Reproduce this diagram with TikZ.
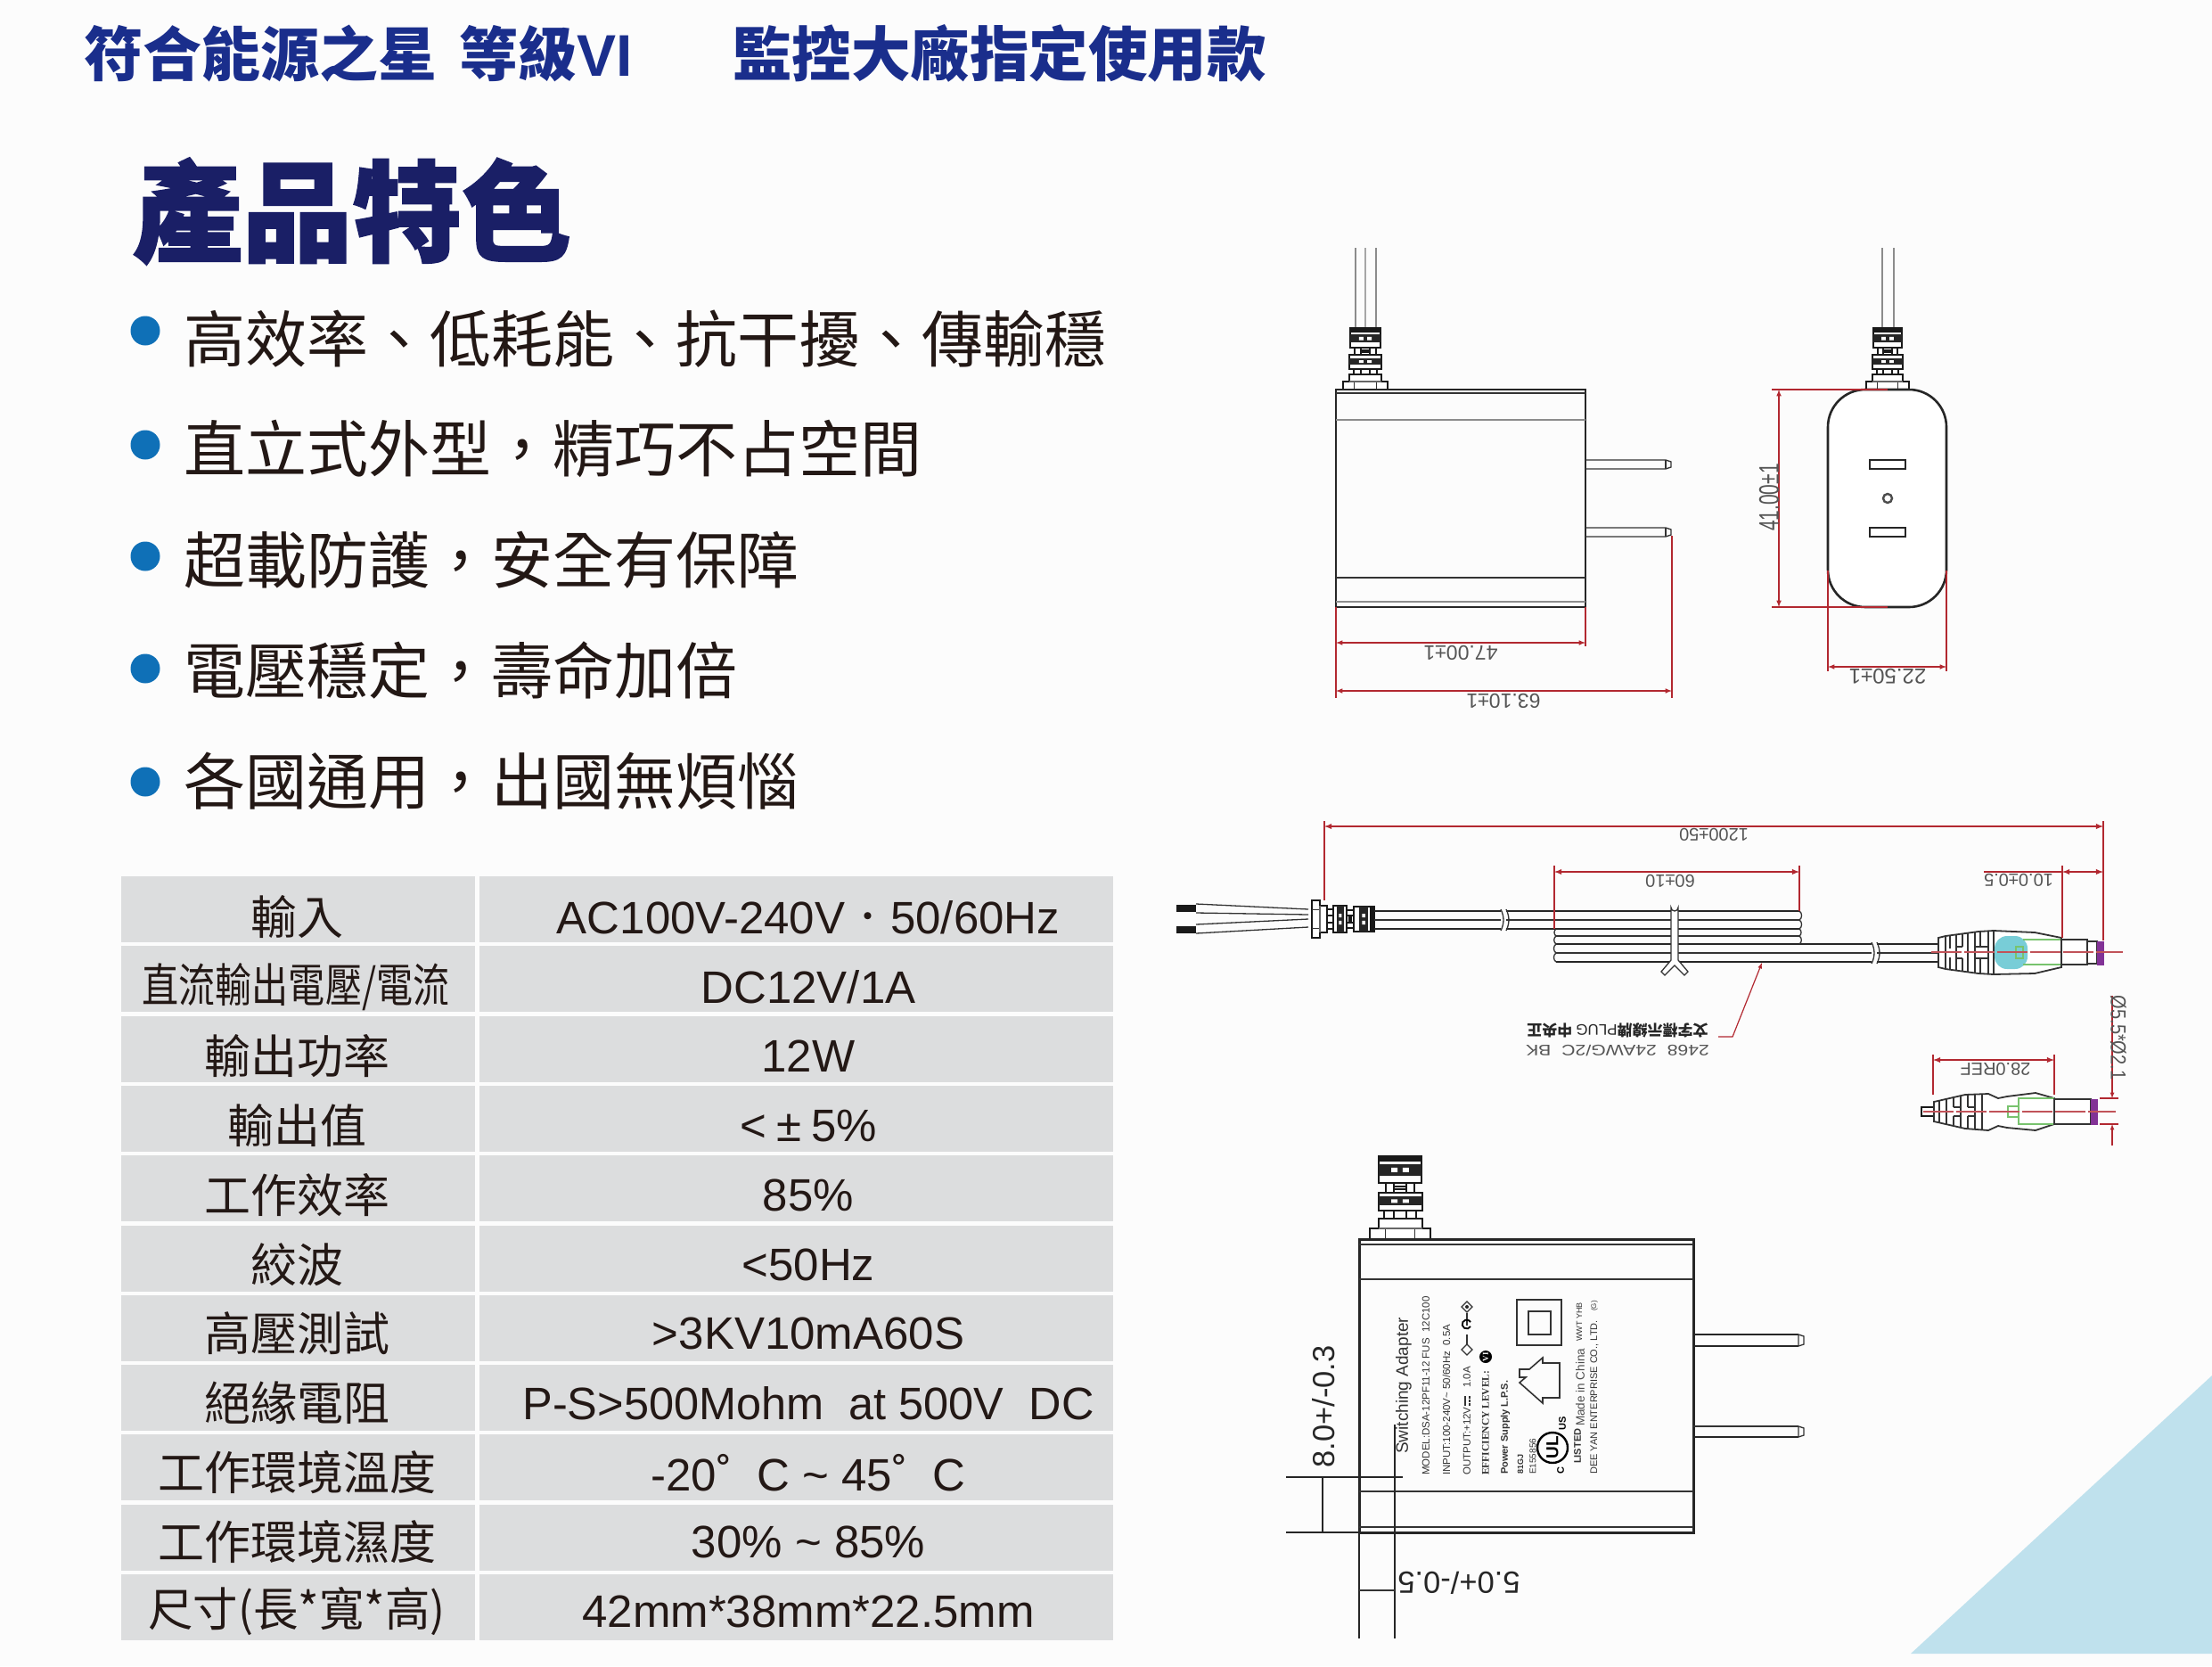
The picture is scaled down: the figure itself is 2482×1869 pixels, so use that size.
\documentclass[tikz,border=0pt]{standalone}
\usepackage{fontspec}
\usepackage{xcolor}
\setmainfont{Liberation Sans}
\newfontfamily\cjk{Noto Sans CJK TC}
\newfontfamily\cjkheavy{Noto Sans CJK TC}[BoldFeatures={FakeBold=1.6}]
\newfontfamily\dejavu{DejaVu Sans}
\newfontfamily\serifb{Liberation Serif}
\usetikzlibrary{arrows, positioning, calc}
\definecolor{headblue}{RGB}{26, 46, 140}
\definecolor{titleblue}{RGB}{26, 31, 102}
\definecolor{dotblue}{RGB}{15, 112, 183}
\definecolor{inkblack}{RGB}{35, 24, 21}
\definecolor{rowgrey}{RGB}{220, 221, 222}
\definecolor{cornerblue}{RGB}{191, 225, 237}
\definecolor{dimred}{RGB}{178, 40, 48}
\definecolor{plugcyan}{RGB}{120, 205, 215}
\definecolor{pluggreen}{RGB}{120, 195, 110}
\definecolor{plugpurple}{RGB}{130, 50, 150}
\definecolor{dimgrey}{RGB}{85, 85, 85}
\newcommand{\fsz}[1]{\fontsize{#1}{#1}\selectfont}
\tikzset{
  bullettext/.style={anchor=west, inner sep=0, text=inkblack, font=\cjk\fsz{69}},
  bulletdot/.style={circle, fill=dotblue, minimum size=33, inner sep=0},
  cellleft/.style={inner sep=0, text=inkblack, font=\cjk\fsz{52}},
  cellright/.style={inner sep=0, text=inkblack, font=\fsz{51}},
  dimline/.style={draw=dimred, line width=1.5, <->, >=latex},
  extline/.style={draw=dimred, line width=1.2},
  dimtext/.style={inner sep=0, text=dimgrey, font=\fsz{23}},
  smalldim/.style={inner sep=0, text=dimgrey, font=\fsz{20}},
  bodyline/.style={draw=black!85, line width=2.6},
  thinline/.style={draw=black!80, line width=1.3},
  reliefline/.style={draw=black!90, line width=2},
  greyline/.style={draw=black!45, line width=2.4},
  plate/.style={inner sep=0, anchor=west, rotate=90, text=black!80, font=\fsz{#1}},
  centerdash/.style={draw=dimred!80, line width=1.4, dash pattern=on 34 off 3}
}
% Strain relief, standing on (0,0)
\newcommand{\reliefparts}{
  \draw[reliefline, fill=white] (-24,-94) rectangle (24,-64);
  \fill[black!90] (-24,-94) rectangle (24,-88);
  \fill[black!85] (-24,-85) rectangle (24,-72);
  \fill[white] (-10,-81) rectangle (-3,-76) (3,-81) rectangle (10,-76);
  \draw[reliefline, fill=white] (-16,-64) rectangle (-7,-53) (7,-64) rectangle (16,-53);
  \draw[reliefline, fill=white] (-7,-60) rectangle (7,-57);
  \draw[reliefline, fill=white] (-25,-53) rectangle (25,-32);
  \fill[black!85] (-25,-48) rectangle (25,-38);
  \fill[white] (-10,-45) rectangle (-3,-41) (3,-45) rectangle (10,-41);
  \draw[reliefline, fill=white] (-18,-32) rectangle (-7,-23) (7,-32) rectangle (18,-23);
  \draw[reliefline, fill=white] (-25,-23) rectangle (25,-12);
  \draw[reliefline, fill=white] (-35,-12) rectangle (35,0);
  \draw[thinline] (-17,-12) -- (-17,0) (17,-12) -- (17,0);
  \draw[draw=black!60, line width=2] (-25,-12) -- (25,-12);
}
\begin{document}
\begin{tikzpicture}[x=1pt, y=-1pt]
  \useasboundingbox (0,0) rectangle (2482,1869);
  \fill[white!99!black] (0,0) rectangle (2482,1869);
  \fill[cornerblue] (2482,1543) -- (2144,1855) -- (2482,1855) -- cycle;

  % Header
  \node[anchor=west, inner sep=0, text=headblue, font=\cjk\bfseries\fsz{66}] (energy) at (94,60) {符合能源之星\hspace{25pt}等級{\normalfont\bfseries VI}};
  \node[anchor=west, inner sep=0, text=headblue, font=\cjk\bfseries\fsz{66.5}] (brand) at (822,60) {監控大廠指定使用款};
  \node[anchor=west, inner sep=0, text=titleblue, font=\cjkheavy\bfseries\fsz{123}] (title) at (149,237) {產品特色};

  % Bullet list
  \node[bulletdot] (dot1) at (163,371) {};
  \node[bulletdot] (dot2) at (163,499) {};
  \node[bulletdot] (dot3) at (163,624) {};
  \node[bulletdot] (dot4) at (163,750) {};
  \node[bulletdot] (dot5) at (163,877) {};
  \node[bullettext] (feat1) at (206,380) {高效率、低耗能、抗干擾、傳輸穩};
  \node[bullettext] (feat2) at (206,503) {直立式外型，精巧不占空間};
  \node[bullettext] (feat3) at (206,628) {超載防護，安全有保障};
  \node[bullettext] (feat4) at (206,752) {電壓穩定，壽命加倍};
  \node[bullettext] (feat5) at (206,876) {各國通用，出國無煩惱};

  % Table rows
  \foreach \i in {0,...,10} {
    \fill[rowgrey] (136,983+78.3*\i) rectangle (533,983+78.3*\i+74);
    \fill[rowgrey] (538,983+78.3*\i) rectangle (1249,983+78.3*\i+74);
  }
  \node[cellleft] (name1) at (333,1029) {輸入};
  \node[cellleft, xscale=0.79] (name2) at (332,1107) {直流輸出電壓/電流};
  \node[cellleft] (name3) at (333,1185) {輸出功率};
  \node[cellleft] (name4) at (333,1263) {輸出值};
  \node[cellleft] (name5) at (333,1341) {工作效率};
  \node[cellleft] (name6) at (333,1419) {絞波};
  \node[cellleft] (name7) at (333,1496) {高壓測試};
  \node[cellleft] (name8) at (333,1574) {絕緣電阻};
  \node[cellleft] (name9) at (333,1652) {工作環境溫度};
  \node[cellleft] (name10) at (333,1730) {工作環境濕度};
  \node[cellleft, xscale=0.97] (name11) at (333,1808) {尺寸(長*寬*高)};
  \node[cellright] (val1) at (907,1029) {AC100V-240V{\cjk ．}50/60Hz};
  \node[cellright] (val2) at (907,1107) {DC12V/1A};
  \node[cellright] (val3) at (907,1185) {12W};
  \node[cellright] (val4) at (907,1263) {<\hspace{11pt}±\hspace{11pt}5\%};
  \node[cellright] (val5) at (907,1341) {85\%};
  \node[cellright] (val6) at (907,1419) {<50Hz};
  \node[cellright] (val7) at (907,1496) {>3KV10mA60S};
  \node[cellright, xscale=0.99] (val8) at (907,1574) {P-S>500Mohm\ \ at 500V\ \ DC};
  \node[cellright] (val9) at (907,1652) {-20˚\ \ C\ \textasciitilde\ 45˚\ \ C};
  \node[cellright] (val10) at (907,1730) {30\%\ \textasciitilde\ 85\%};
  \node[cellright] (val11) at (907,1808) {42mm*38mm*22.5mm};

  % Side view
  \draw[greyline] (1521,278) -- (1521,368) (1544,278) -- (1544,368);
  \draw[draw=black!35, line width=1.4] (1532,278) -- (1532,368);
  \begin{scope}[shift={(1532,437)}, xscale=0.72, yscale=0.73]
    \reliefparts
  \end{scope}
  \draw[bodyline] (1499,437) rectangle (1779,681);
  \draw[greyline] (1499,471) -- (1779,471) (1499,675) -- (1779,675);
  \draw[thinline] (1499,441) -- (1779,441) (1499,648) -- (1779,648);
  \draw[thinline] (1779,516) -- (1869,516) -- (1875,518) -- (1875,524) -- (1869,526) -- (1779,526);
  \draw[thinline] (1869,516) -- (1869,526);
  \draw[thinline] (1779,592) -- (1869,592) -- (1875,594) -- (1875,600) -- (1869,602) -- (1779,602);
  \draw[thinline] (1869,592) -- (1869,602);
  \draw[extline] (1499,681) -- (1499,783) (1779,681) -- (1779,725) (1876,601) -- (1876,783);
  \draw[dimline] (1499,721) -- (1779,721);
  \draw[dimline] (1499,775) -- (1876,775);
  \node[dimtext, rotate=180] (sidew) at (1639,732) {47.00±1};
  \node[dimtext, rotate=180] (sidel) at (1687,786) {63.10±1};

  % Front view
  \draw[greyline] (2112,278) -- (2112,368) (2125,278) -- (2125,368);
  \begin{scope}[shift={(2118,437)}, xscale=0.68, yscale=0.73]
    \reliefparts
  \end{scope}
  \draw[bodyline, fill=white, rounded corners=42] (2051,437) rectangle (2184,681);
  \draw[bodyline, line width=2, fill=white] (2098,516) rectangle (2138,526);
  \draw[bodyline, line width=2, fill=white] (2098,592) rectangle (2138,602);
  \draw[draw=black!70, line width=2.4] (2118,559) circle (5);
  \draw[extline] (1988,437) -- (2118,437) (1988,681) -- (2118,681);
  \draw[extline] (2051,640) -- (2051,753) (2184,640) -- (2184,753);
  \draw[dimline] (1996,437) -- (1996,681);
  \draw[dimline] (2051,748) -- (2184,748);
  \node[dimtext, font=\fsz{21}, rotate=90, yscale=1.5] (fronth) at (1985,558) {41.00±1};
  \node[dimtext, font=\fsz{24}, rotate=180] (frontw) at (2118,759) {22.50±1};

  % Cable overall
  \fill[black!90] (1320,1015) -- (1342,1015) -- (1342,1023) -- (1320,1023) -- cycle;
  \fill[black!90] (1320,1039) -- (1342,1039) -- (1342,1047) -- (1320,1047) -- cycle;
  \draw[thinline] (1342,1014) -- (1468,1020) (1342,1024) -- (1468,1026);
  \draw[thinline] (1342,1037) -- (1468,1031) (1342,1047) -- (1468,1040);
  \begin{scope}[shift={(1472,1031)}, rotate=-90, xscale=0.6, yscale=0.74]
    \reliefparts
  \end{scope}
  \draw[bodyline, line width=2] (1542,1022) -- (1684,1022) (1690,1022) -- (2019,1022);
  \draw[thinline] (1542,1032) -- (1684,1032) (1690,1032) -- (2019,1032);
  \draw[bodyline, line width=1.8] (1542,1042) -- (1684,1042) (1690,1042) -- (2019,1042);
  \draw[thinline] (1684,1020) to[bend left=25] (1684,1044);
  \draw[thinline] (1690,1020) to[bend left=25] (1690,1044);
  \draw[thinline] (1746,1050) -- (2019,1050);
  \draw[bodyline, line width=2] (1746,1059) -- (2100,1059) (2106,1059) -- (2177,1059);
  \draw[thinline] (1746,1069) -- (2100,1069) (2106,1069) -- (2177,1069);
  \draw[bodyline, line width=2] (1746,1079) -- (2100,1079) (2106,1079) -- (2177,1079);
  \draw[thinline] (2100,1057) to[bend left=25] (2100,1081);
  \draw[thinline] (2106,1057) to[bend left=25] (2106,1081);
  \draw[thinline] (1746,1042) to[bend right=60] (1746,1050) to[bend right=60] (1746,1059) to[bend right=60] (1746,1069) to[bend right=60] (1746,1079);
  \draw[thinline] (2019,1022) to[bend left=60] (2019,1032) to[bend left=60] (2019,1042) to[bend left=60] (2019,1050) to[bend left=60] (2019,1059);
  % Cable tie
  \draw[thinline, fill=white] (1875,1077) -- (1875,1018) arc (180:0:4) -- (1883,1077) -- (1894,1090) -- (1890,1094) -- (1879,1083) -- (1868,1094) -- (1864,1090) -- cycle;

  % Plug on the cable
  \draw[thinline, line width=1.8, fill=white] (2175,1052) -- (2183,1050) -- (2220,1045) -- (2237,1044) -- (2283,1046) -- (2313,1052) -- (2313,1085) -- (2283,1092) -- (2237,1093) -- (2220,1092) -- (2183,1087) -- (2175,1085) -- cycle;
  \fill[plugcyan, rounded corners=14] (2238,1050) rectangle (2275,1087);
  \draw[draw=pluggreen, line width=1.5] (2312,1054) -- (2270,1054) (2312,1082) -- (2270,1082);
  \draw[draw=pluggreen, line width=1.2] (2262,1062) rectangle (2270,1075);
  \draw[thinline] (2237,1044) -- (2237,1093);
  \draw[thinline] (2183,1050) -- (2183,1087) (2188,1049) -- (2188,1064) (2188,1074) -- (2188,1088) (2195,1048) -- (2195,1089) (2202,1047) -- (2202,1062) (2202,1075) -- (2202,1090) (2208,1047) -- (2208,1090) (2216,1046) -- (2216,1091) (2222,1045) -- (2222,1062) (2222,1075) -- (2222,1092) (2231,1045) -- (2231,1092);
  \draw[thinline] (2195,1062) -- (2202,1062) (2195,1075) -- (2202,1075) (2216,1062) -- (2231,1062) (2216,1075) -- (2231,1075);
  \draw[thinline, fill=white] (2313,1054) rectangle (2342,1082);
  \draw[thinline, fill=white] (2342,1056) rectangle (2353,1081);
  \fill[plugpurple] (2353,1056) rectangle (2361,1083);
  \draw[centerdash] (2167,1068) -- (2382,1068);

  % Cable dimensions
  \draw[extline] (1486,921) -- (1486,1010) (2360,921) -- (2360,1055);
  \draw[dimline, line width=1.8] (1486,927) -- (2360,927);
  \node[smalldim, rotate=180] (total) at (1923,936) {1200±50};
  \draw[extline] (1744,971) -- (1744,1042) (2019,971) -- (2019,1022);
  \draw[dimline, line width=1.8] (1744,978) -- (2019,978);
  \node[smalldim, rotate=180] (coil) at (1874,988) {60±10};
  \draw[extline] (2314,971) -- (2314,1052);
  \draw[extline] (2226,978) -- (2314,978);
  \draw[dimline, line width=1.8] (2314,978) -- (2360,978);
  \node[smalldim, rotate=180] (tip) at (2265,987) {10.0±0.5};
  \draw[extline, ->, >=latex] (1928,1163) -- (1944,1163) -- (1977,1080);
  \node[inner sep=0, rotate=180, text=black!85, font=\cjk\bfseries\fsz{17}] (wiretag) at (1815,1156) {文字標示線牌{\normalfont\fsz{17}PLUG} 中央正};
  \node[inner sep=0, rotate=180, xscale=1.25, text=dimgrey, font=\fsz{17}] (wirespec) at (1815,1179) {2468\ \ 24AWG/2C\ \ BK};

  % Plug detail
  \draw[reliefline, fill=white] (2156,1242) -- (2170,1242) -- (2170,1252) -- (2156,1252) -- cycle;
  \draw[thinline, line width=1.8, fill=white] (2170,1236) -- (2205,1228) -- (2231,1227) -- (2242,1232) -- (2252,1230) -- (2284,1226) -- (2305,1232) -- (2305,1261) -- (2284,1268) -- (2252,1265) -- (2242,1263) -- (2231,1268) -- (2205,1266) -- (2170,1258) -- cycle;
  \draw[thinline] (2176,1234) -- (2176,1260) (2184,1232) -- (2184,1262) (2192,1230) -- (2192,1242) (2192,1252) -- (2192,1264) (2200,1229) -- (2200,1265) (2208,1228) -- (2208,1242) (2208,1252) -- (2208,1266) (2216,1228) -- (2216,1266) (2224,1228) -- (2224,1267);
  \draw[thinline] (2192,1242) -- (2200,1242) (2192,1252) -- (2200,1252) (2208,1242) -- (2216,1242) (2208,1252) -- (2216,1252);
  \draw[draw=pluggreen, line width=1.5] (2305,1232) -- (2265,1232) -- (2265,1261) -- (2305,1261);
  \draw[draw=pluggreen, line width=1.2] (2253,1241) rectangle (2265,1253);
  \draw[thinline, fill=white] (2305,1233) rectangle (2346,1261);
  \fill[plugpurple] (2346,1233) rectangle (2354,1262);
  \draw[centerdash] (2158,1247) -- (2374,1247);
  \draw[extline] (2169,1183) -- (2169,1228) (2305,1183) -- (2305,1228);
  \draw[dimline, line width=1.8] (2169,1189) -- (2305,1189);
  \node[smalldim, rotate=180] (plugl) at (2239,1199) {28.0REF};
  \draw[extline] (2356,1232) -- (2377,1232) (2356,1261) -- (2377,1261);
  \draw[extline, ->, >=latex] (2370,1117) -- (2370,1232);
  \draw[extline, ->, >=latex] (2370,1285) -- (2370,1261);
  \node[smalldim, rotate=-90, yscale=1.2] (plugd) at (2377,1164) {Ø5.5*Ø2.1};

  % Label view
  \begin{scope}[shift={(1571,1390)}, xscale=0.98, yscale=0.99]
    \reliefparts
  \end{scope}
  \draw[bodyline, line width=3] (1525,1390) rectangle (1900,1719);
  \draw[thinline] (1525,1396) -- (1900,1396) (1525,1435) -- (1900,1435) (1525,1673) -- (1900,1673) (1525,1713) -- (1900,1713);
  \draw[bodyline] (1900,1497) -- (2018,1497) (1900,1510) -- (2018,1510);
  \draw[thinline] (2018,1497) -- (2024,1499) -- (2024,1508) -- (2018,1510) -- cycle;
  \draw[thinline] (1900,1600) -- (2018,1600);
  \draw[bodyline] (1900,1612) -- (2018,1612);
  \draw[thinline] (2018,1600) -- (2024,1602) -- (2024,1610) -- (2018,1612) -- cycle;
  % Label text
  \node[plate=19] (swa) at (1575,1631) {Switching Adapter};
  \node[plate=11.5] (model) at (1600,1655) {MODEL:DSA-12PF11-12 FUS\ \ 12C100};
  \node[plate=11.5] (input) at (1623,1655) {INPUT:100-240V\textasciitilde\ 50/60Hz\ \ 0.5A};
  \node[plate=11.5] (output) at (1646,1655) {OUTPUT:+12V};
  \node[plate=11.5] (outcur) at (1646,1557) {1.0A};
  \draw[thinline] (1644,1566) -- (1644,1577);
  \draw[thinline, dash pattern=on 2.5 off 1.5] (1649,1566) -- (1649,1577);
  \node[plate=11, font=\serifb\bfseries\fsz{11.5}] (effic) at (1667,1655) {EFFICIENCY LEVEL:};
  \node[circle, fill=black, inner sep=0, minimum size=14, rotate=90, text=white, font=\serifb\bfseries\fsz{9}] (level) at (1667,1522) {VI};
  \node[plate=11, font=\bfseries\fsz{11}] (power) at (1689,1654) {Power Supply L.P.S.};
  \node[plate=9, font=\bfseries\fsz{9}] (gj) at (1706,1654) {81GJ};
  \node[plate=10] (enum) at (1720,1654) {E155856};
  \node[plate=13.5, text=black!70] (china) at (1773,1600) {Made in China};
  \node[plate=11, font=\bfseries\fsz{11}] (listed) at (1770,1642) {LISTED};
  \node[plate=7, font=\fsz{9}] (batch) at (1772,1505) {WWT YHB};
  \node[plate=11] (maker) at (1789,1654) {DEE YAN ENTERPRISE CO., LTD.};
  \node[plate=8] (grade) at (1789,1471) {(G)};
  % Polarity mark
  \draw[thinline] (1646,1473) -- (1646,1487) (1646,1497) -- (1646,1508);
  \draw[thinline] (1640,1466) -- (1646,1460) -- (1652,1466) -- (1646,1472) -- cycle;
  \draw[thinline] (1640,1514) -- (1646,1508) -- (1652,1514) -- (1646,1520) -- cycle;
  \fill[black!85] (1646,1466) circle (2);
  \draw[line width=1.8] (1650,1488) arc (30:330:5);
  % Class marks
  \draw[thinline, line width=1.8] (1702,1458) rectangle (1752,1509);
  \draw[thinline, line width=2] (1715,1471) rectangle (1740,1497);
  \draw[thinline, line width=1.6] (1750,1529) -- (1731,1529) -- (1731,1523) -- (1716,1536) -- (1705,1536) -- (1705,1545) -- (1712,1545) -- (1705,1551) -- (1731,1574) -- (1731,1568) -- (1750,1568) -- cycle;
  % UL mark
  \draw[line width=2.4] (1742,1624) circle (17);
  \node[inner sep=0, rotate=90, font=\bfseries\fsz{19}] (ullogo) at (1742,1624) {UL};
  \node[inner sep=0, rotate=90, font=\bfseries\fsz{11}] (ulc) at (1751,1650) {C};
  \node[inner sep=0, rotate=90, font=\bfseries\fsz{11}] (ulus) at (1753,1597) {US};

  % Body offsets
  \draw[bodyline, line width=2] (1443,1657) -- (1574,1657) (1443,1719) -- (1525,1719);
  \draw[bodyline, line width=1.6] (1484,1657) -- (1484,1719);
  \draw[bodyline, line width=1.6] (1525,1719) -- (1525,1838) (1565,1598) -- (1565,1838);
  \draw[thinline] (1525,1784) -- (1565,1784);
  \node[inner sep=0, rotate=90, text=black!85, font=\fsz{34.5}] (edge) at (1485,1578) {8.0+/-0.3};
  \node[inner sep=0, rotate=180, text=black!85, font=\fsz{34.5}] (side) at (1637,1776) {5.0+/-0.5};
\end{tikzpicture}
\end{document}
